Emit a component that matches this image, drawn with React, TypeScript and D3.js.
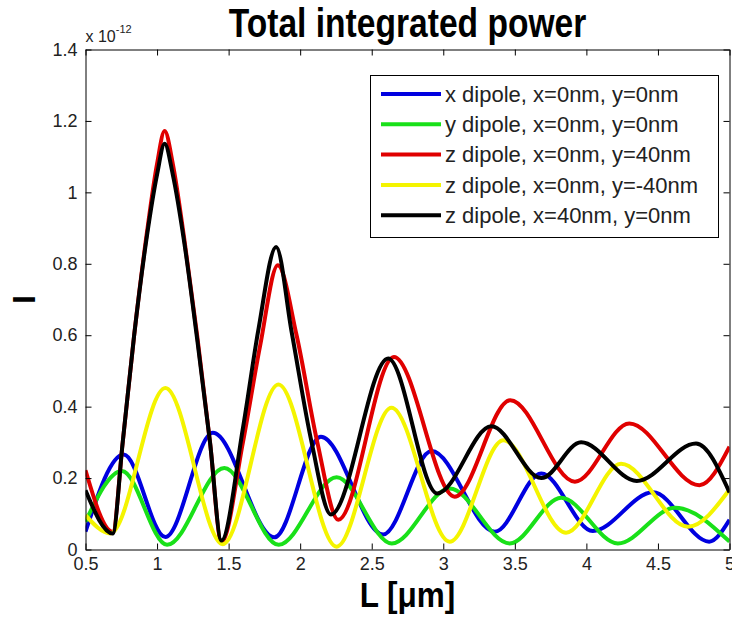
import React, { useEffect, useRef } from "react";
import * as d3 from "d3";

// axis ticks (values are in units of 1e-12)
const xTicks = [0.5, 1, 1.5, 2, 2.5, 3, 3.5, 4, 4.5, 5];
const yTicks = [0, 0.2, 0.4, 0.6, 0.8, 1, 1.2, 1.4];

const legendLabels = [
  "x dipole, x=0nm, y=0nm",
  "y dipole, x=0nm, y=0nm",
  "z dipole, x=0nm, y=40nm",
  "z dipole, x=0nm, y=-40nm",
  "z dipole, x=40nm, y=0nm",
];
const seriesColors = ["#0000e0", "#19e019", "#e00000", "#f4f400", "#000000"];

// L [um] and I
const blueL = [0.5, 0.767, 1.058, 1.39, 1.82, 2.145, 2.58, 2.918, 3.36, 3.685, 4.045, 4.465, 4.858, 5.0];
const blueI = [0.05, 0.266, 0.035, 0.327, 0.034, 0.316, 0.042, 0.276, 0.05, 0.213, 0.052, 0.16, 0.022, 0.083];

const greenL = [0.5, 0.755, 1.07, 1.47, 1.85, 2.255, 2.64, 3.045, 3.464, 3.824, 4.22, 4.62, 5.0];
const greenI = [0.078, 0.22, 0.013, 0.228, 0.013, 0.202, 0.017, 0.171, 0.017, 0.145, 0.017, 0.117, 0.022];

const redL = [0.5, 0.69, 0.76, 0.84, 0.93, 1.0, 1.053, 1.11, 1.19, 1.28, 1.37, 1.45, 1.6, 1.72, 1.844, 1.975, 2.12, 2.266, 2.655, 3.08, 3.468, 3.92, 4.3, 4.79, 5.0];
const redI = [0.222, 0.05, 0.3, 0.6, 0.89, 1.08, 1.172, 1.08, 0.87, 0.6, 0.3, 0.02, 0.3, 0.57, 0.796, 0.6, 0.3, 0.083, 0.539, 0.148, 0.418, 0.19, 0.353, 0.18, 0.288];

const yellowL = [0.5, 0.674, 1.058, 1.46, 1.848, 2.255, 2.638, 3.045, 3.42, 3.858, 4.242, 4.71, 5.0];
const yellowI = [0.096, 0.045, 0.452, 0.015, 0.462, 0.008, 0.397, 0.022, 0.306, 0.047, 0.24, 0.064, 0.168];

const blackL = [0.5, 0.69, 0.76, 0.84, 0.93, 1.0, 1.053, 1.11, 1.19, 1.28, 1.37, 1.45, 1.6, 1.71, 1.832, 1.94, 2.08, 2.215, 2.615, 2.958, 3.336, 3.685, 3.963, 4.352, 4.766, 5.0];
const blackI = [0.166, 0.045, 0.3, 0.6, 0.88, 1.05, 1.136, 1.05, 0.86, 0.59, 0.3, 0.025, 0.34, 0.62, 0.847, 0.61, 0.3, 0.098, 0.535, 0.157, 0.345, 0.2, 0.3, 0.192, 0.297, 0.16];

const FONT = "'Liberation Sans', Arial, Helvetica, sans-serif";

const App = () => {
  const svgRef = useRef<SVGSVGElement>(null);

  useEffect(() => {
    const svg = d3.select(svgRef.current);
    svg.selectAll("*").remove();

    const left = 85.5, right = 729.5, top = 49.5, bottom = 549.5;
    const x = d3.scaleLinear().domain([0.5, 5]).range([left, right]);
    const y = d3.scaleLinear().domain([0, 1.4]).range([bottom, top]);

    const series = [
      d3.zip(blueL, blueI),
      d3.zip(greenL, greenI),
      d3.zip(redL, redI),
      d3.zip(yellowL, yellowI),
      d3.zip(blackL, blackI),
    ];

    svg.append("rect").attr("width", 732).attr("height", 620).attr("fill", "#fff");

    svg.append("clipPath").attr("id", "plot-clip")
      .append("rect")
      .attr("x", left).attr("y", top)
      .attr("width", right - left).attr("height", bottom - top);

    const line = d3.line<[number, number]>()
      .x((d) => x(d[0]))
      .y((d) => y(d[1]))
      .curve(d3.curveMonotoneX);

    svg.append("g")
      .attr("clip-path", "url(#plot-clip)")
      .selectAll("path")
      .data(series)
      .enter()
      .append("path")
      .attr("d", (d) => line(d as [number, number][]))
      .attr("fill", "none")
      .attr("stroke", (d, i) => seriesColors[i])
      .attr("stroke-width", 4)
      .attr("stroke-linejoin", "round");

    // axes, ticks pointing inward like matlab
    const styleAxis = (g) => {
      g.select(".domain").attr("stroke", "#000");
      g.selectAll(".tick line").attr("stroke", "#000");
      g.selectAll("text")
        .attr("font-family", FONT)
        .attr("font-size", 18)
        .attr("fill", "#222");
    };

    svg.append("g")
      .attr("transform", `translate(0,${bottom})`)
      .call(d3.axisBottom(x).tickValues(xTicks).tickSize(-6).tickSizeOuter(0).tickPadding(8).tickFormat((d) => String(d)))
      .call(styleAxis);
    svg.append("g")
      .attr("transform", `translate(0,${top})`)
      .call(d3.axisTop(x).tickValues(xTicks).tickSize(-6).tickSizeOuter(0).tickFormat(() => ""))
      .call(styleAxis);
    svg.append("g")
      .attr("transform", `translate(${left},0)`)
      .call(d3.axisLeft(y).tickValues(yTicks).tickSize(-6).tickSizeOuter(0).tickPadding(8).tickFormat((d) => String(d)))
      .call(styleAxis);
    svg.append("g")
      .attr("transform", `translate(${right},0)`)
      .call(d3.axisRight(y).tickValues(yTicks).tickSize(-6).tickSizeOuter(0).tickFormat(() => ""))
      .call(styleAxis);

    // exponent label
    const expo = svg.append("text")
      .attr("x", left)
      .attr("y", 42)
      .attr("font-family", FONT)
      .attr("font-size", 16)
      .attr("fill", "#222");
    expo.append("tspan").text("x 10");
    expo.append("tspan").attr("dy", -9).attr("font-size", 11).text("-12");

    // title and axis labels (matlab's glyphs come out tall and narrow)
    svg.append("text")
      .attr("transform", `translate(${(left + right) / 2},37) scale(0.84,1)`)
      .attr("text-anchor", "middle")
      .attr("font-family", FONT)
      .attr("font-weight", "bold")
      .attr("font-size", 40)
      .text("Total integrated power");

    svg.append("text")
      .attr("transform", `translate(${(left + right) / 2},607) scale(0.9,1)`)
      .attr("text-anchor", "middle")
      .attr("font-family", FONT)
      .attr("font-weight", "bold")
      .attr("font-size", 35)
      .text("L [μm]");

    svg.append("text")
      .attr("transform", `translate(35,${(top + bottom) / 2}) rotate(-90)`)
      .attr("text-anchor", "middle")
      .attr("font-family", FONT)
      .attr("font-weight", "bold")
      .attr("font-size", 32)
      .text("I");

    // legend
    const legend = svg.append("g");
    legend.append("rect")
      .attr("x", 370.5).attr("y", 75.5)
      .attr("width", 348).attr("height", 162)
      .attr("fill", "#fff").attr("stroke", "#000");

    const rows = legend.selectAll("g.row")
      .data(legendLabels)
      .enter()
      .append("g")
      .attr("class", "row")
      .attr("transform", (d, i) => `translate(0,${94 + i * 30.3})`);
    rows.append("line")
      .attr("x1", 381).attr("x2", 441)
      .attr("stroke", (d, i) => seriesColors[i])
      .attr("stroke-width", 4);
    rows.append("text")
      .attr("x", 445)
      .attr("dy", "0.35em")
      .attr("font-family", FONT)
      .attr("font-size", 22)
      .attr("fill", "#222")
      .text((d) => d);
  }, []);

  return (
    <svg
      ref={svgRef}
      width={732}
      height={620}
      style={{ position: "absolute", left: 0, top: 0 }}
    ></svg>
  );
};

export default App;
